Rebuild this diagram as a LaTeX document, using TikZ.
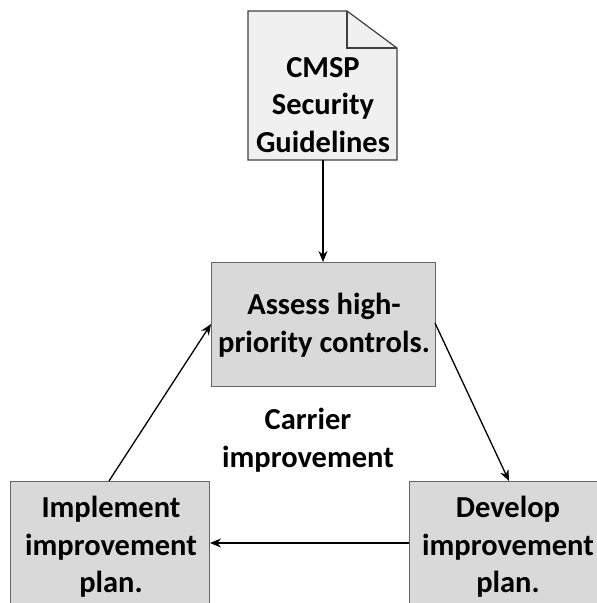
\documentclass[tikz,border=0pt]{standalone}
\usepackage{fontspec}
\setmainfont{Carlito}
\usetikzlibrary{arrows.meta}
\tikzset{
 boxn/.style={draw=black!60,line width=1pt,fill=black!15,inner sep=0pt,anchor=north west},
 lab/.style={font=\fontsize{30.5}{37.5}\selectfont\bfseries,align=center,text=black},
 conn/.style={draw=black,line width=1.3pt,-{Stealth[length=11pt,width=9pt]}}
}
\begin{document}
\begin{tikzpicture}[x=1pt,y=-1pt]
\useasboundingbox (0,0) rectangle (597,603);
\fill[white] (0,0) rectangle (597,603);
\coordinate (dTL) at (248,11);
\coordinate (dF) at (347,11);
\coordinate (dFb) at (397,48);
\coordinate (dB) at (397,160);
\coordinate (dBL) at (248,160);
\draw[draw=black!75,line width=1.2pt,fill=black!6] (dTL) -- (dF) -- (dFb) -- (dB) -- (dBL) -- cycle;
\draw[draw=black!75,line width=1.2pt] (dF) -- (347,48) -- (dFb);
\node[lab] (doc) at (323,105) {CMSP\\Security\\Guidelines};
\node[boxn,minimum width=224pt,minimum height=124pt] (assess) at (211,262) {};
\node[lab] at (324,325) {Assess high-\\priority controls.};
\node[lab] (carrier) at (308,440) {Carrier\\improvement};
\path[clip] (0,0) rectangle (597,603);
\node[boxn,minimum width=199pt,minimum height=140pt] (impl) at (10,481) {};
\node[boxn,minimum width=199pt,minimum height=140pt] (dev) at (409,481) {};
\node[lab] at (111,547) {Implement\\improvement\\plan.};
\node[lab] at (508,547) {Develop\\improvement\\plan.};
\coordinate (a1) at (323,160);
\coordinate (a2) at (323,262);
\draw[conn] (a1) -- (a2);
\coordinate (b1) at (435,323);
\coordinate (b2) at (509,481);
\draw[conn] (b1) -- (b2);
\coordinate (c1) at (409,543);
\coordinate (c2) at (210,543);
\draw[conn] (c1) -- (c2);
\coordinate (d1) at (109,481);
\coordinate (d2) at (211,324);
\draw[conn] (d1) -- (d2);
\end{tikzpicture}
\end{document}
